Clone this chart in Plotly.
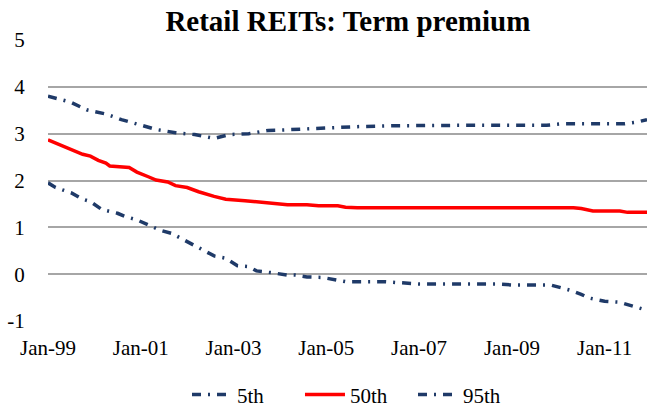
import plotly.graph_objects as go
from datetime import date

def mdate(m):
    return date(1999 + m // 12, m % 12 + 1, 1).isoformat()

# 5th percentile: (month index from Jan-99, value)
p5_months = [0, 2, 6, 9, 11, 14, 18, 20, 23, 27, 29, 32, 35, 37, 40, 43, 46, 49, 52, 54, 58, 62, 64, 67,
             71, 74, 77, 87, 91, 96, 116, 120, 130, 132, 135, 138, 140, 144, 148, 150, 153, 155]
p5_values = [1.95, 1.85, 1.74, 1.60, 1.55, 1.38, 1.30, 1.23, 1.16, 1.01, 0.94, 0.87, 0.74, 0.67, 0.53, 0.39,
             0.34, 0.18, 0.16, 0.07, 0.03, -0.02, -0.02, -0.06, -0.07, -0.11, -0.16, -0.16, -0.19, -0.21,
             -0.21, -0.23, -0.23, -0.27, -0.34, -0.43, -0.51, -0.58, -0.60, -0.65, -0.72, -0.77]

p50_months = [0, 4, 7, 9, 11, 13, 15, 16, 21, 23, 26, 28, 31, 33, 36, 39, 43, 46, 51, 55, 58, 62, 67, 70,
              75, 77, 80, 100, 120, 136, 138, 141, 148, 150, 155]
p50_values = [2.87, 2.73, 2.64, 2.56, 2.52, 2.43, 2.37, 2.31, 2.28, 2.18, 2.08, 2.01, 1.97, 1.89, 1.85, 1.76,
              1.66, 1.60, 1.57, 1.54, 1.50, 1.48, 1.48, 1.46, 1.46, 1.43, 1.42, 1.42, 1.42, 1.42, 1.40,
              1.35, 1.35, 1.32, 1.32]

p95_months = [0, 3, 6, 10, 15, 19, 24, 28, 33, 38, 43, 47, 52, 57, 61, 66, 71, 75, 80, 90, 100, 110, 120,
              129, 133, 144, 149, 152, 155]
p95_values = [3.80, 3.74, 3.67, 3.51, 3.42, 3.30, 3.19, 3.09, 3.02, 2.98, 2.90, 2.98, 3.00, 3.07, 3.08, 3.10,
              3.13, 3.14, 3.15, 3.17, 3.18, 3.18, 3.18, 3.18, 3.21, 3.21, 3.21, 3.24, 3.30]

tick_months = [0, 24, 48, 72, 96, 120, 144]
tick_labels = ["Jan-99", "Jan-01", "Jan-03", "Jan-05", "Jan-07", "Jan-09", "Jan-11"]
y_ticks = [-1, 0, 1, 2, 3, 4, 5]

navy = "#1F3A68"
dashdot = "9px,7px,2px,7px"

fig = go.Figure()
fig.add_trace(go.Scatter(x=[mdate(m) for m in p5_months], y=p5_values, name="5th", mode="lines",
                         line=dict(color=navy, width=3.5, dash=dashdot)))
fig.add_trace(go.Scatter(x=[mdate(m) for m in p50_months], y=p50_values, name="50th", mode="lines",
                         line=dict(color="#FF0000", width=3.5)))
fig.add_trace(go.Scatter(x=[mdate(m) for m in p95_months], y=p95_values, name="95th", mode="lines",
                         line=dict(color=navy, width=3.5, dash=dashdot)))

font_family = "Liberation Serif"
fig.update_layout(
    width=649, height=410,
    margin=dict(l=48, r=2, t=40, b=89, autoexpand=False),
    paper_bgcolor="white", plot_bgcolor="white",
    title=dict(text="<b>Retail REITs: Term premium</b>", x=0.536, xanchor="center", y=0.95, yanchor="middle",
               font=dict(family=font_family, size=29, color="black")),
    font=dict(family=font_family, size=21, color="black"),
    showlegend=True,
    legend=dict(orientation="h", x=0.515, xanchor="center", yref="container", y=0.037, yanchor="middle",
                font=dict(family=font_family, size=21, color="black"), itemwidth=40,
                entrywidth=58, entrywidthmode="pixels"),
    xaxis=dict(type="date", range=[mdate(0), mdate(155)], tickvals=[mdate(m) for m in tick_months],
               ticktext=tick_labels, showgrid=False, zeroline=False, showline=False,
               ticks="outside", ticklen=8, tickcolor="rgba(0,0,0,0)",
               tickfont=dict(family=font_family, size=21, color="black")),
    yaxis=dict(range=[-1, 5], tickvals=y_ticks, ticktext=[str(v) for v in y_ticks],
               showgrid=True, gridcolor="#A6A6A6", gridwidth=1.5, zeroline=False, showline=False,
               ticks="outside", ticklen=18, tickcolor="rgba(0,0,0,0)",
               tickfont=dict(family=font_family, size=21, color="black")),
)

fig.write_html("out.html", config={"displayModeBar": False},
               post_script="document.body.style.margin='0px';")
